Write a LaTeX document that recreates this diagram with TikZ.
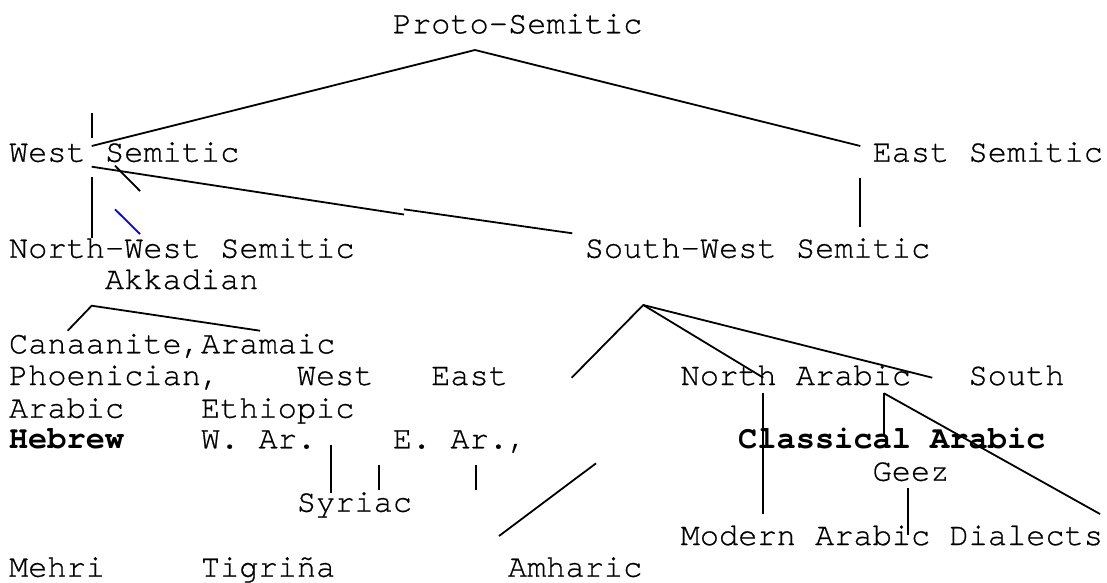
\documentclass[tikz,border=0pt]{standalone}
\usepackage{fontspec}
\newfontfamily\monofont{texgyrecursor}[Extension=.otf,UprightFont=*-regular,BoldFont=*-bold,UprightFeatures={FakeBold=0.6}]
\definecolor{pureblue}{RGB}{0,0,255}
\begin{document}
\begin{tikzpicture}[x=1pt,y=-1pt,
  lbl/.style={anchor=base west,inner sep=0pt,outer sep=0pt,font=\monofont\fontsize{32}{32}\selectfont},
  blbl/.style={lbl,font=\monofont\bfseries\fontsize{32}{32}\selectfont},
  edge/.style={line width=1.8pt,line cap=butt,line join=miter},
  blueedge/.style={edge,draw=pureblue}]
\useasboundingbox[fill=white] (0,0) rectangle (1107,582);
% ---- labels ----
\node[lbl] (ps)    at (392.8,33.3)  {Proto-Semitic};
\node[lbl] (ws)    at (9,161.7)     {West Semitic};
\node[lbl] (es)    at (872.55,161.7){East Semitic};
\node[lbl] (nws)   at (9,257.7)     {North-West Semitic};
\node[lbl] (sws)   at (584.7,257.7) {South-West Semitic};
\node[lbl] (akk)   at (104.95,289)  {Akkadian};
\node[lbl] (can)   at (9,353.3)     {Canaanite,Aramaic};
\node[lbl] (phoe)  at (9,385)       {Phoenician,};
\node[lbl] (westE) at (296.85,385)  {West};
\node[lbl] (eastE) at (431.18,385)  {East};
\node[lbl] (nar)   at (680.65,385)  {North Arabic};
\node[lbl] (south) at (968.5,385)   {South};
\node[lbl] (arab)  at (9,417.7)     {Arabic};
\node[lbl] (eth)   at (200.9,417.7) {Ethiopic};
\node[blbl] (heb)  at (9,448.3)     {Hebrew};
\node[lbl] (war)   at (200.9,448.3) {W. Ar.};
\node[lbl] (ear)   at (392.8,448.3) {E. Ar.,};
\node[blbl] (cla)  at (738.22,448.3){Classical Arabic};
\node[lbl] (geez)  at (872.55,480.7){Geez};
\node[lbl] (syr)   at (296.85,511.7){Syriac};
\node[lbl] (mad)   at (680.65,545)  {Modern Arabic Dialects};
\node[lbl] (mehri) at (9,576.7)     {Mehri};
\node[lbl] (tig)   at (200.9,576.7) {Tigriña};
\node[lbl] (amh)   at (507.94,576.7){Amharic};
% ---- connector points ----
\coordinate (apexP) at (475,50);
\coordinate (wsTop) at (91.7,146);
\coordinate (esTop) at (860.3,146);
\coordinate (tickA) at (91.7,113.3);
\coordinate (tickB) at (91.7,137.7);
\coordinate (wsR)   at (91.7,166.7);
\coordinate (midA)  at (404,214.5);
\coordinate (midB)  at (404,209.3);
\coordinate (swsL)  at (572.3,233.3);
\coordinate (kA)    at (115,165.7);
\coordinate (kB)    at (140,191);
\coordinate (bA)    at (115,209.3);
\coordinate (bB)    at (140,234);
\coordinate (vA)    at (91.7,177.3);
\coordinate (vB)    at (91.7,238.3);
\coordinate (eA)    at (859.7,177.7);
\coordinate (eB)    at (859.7,226.7);
\coordinate (cL)    at (67.7,330.7);
\coordinate (cApex) at (91.7,305.7);
\coordinate (cR)    at (260,330.7);
\coordinate (s1A)   at (331,445);
\coordinate (s1B)   at (331,493.3);
\coordinate (s2A)   at (379.3,465);
\coordinate (s2B)   at (379.3,490);
\coordinate (s3A)   at (475.7,465);
\coordinate (s3B)   at (475.7,490);
\coordinate (amA)   at (596,463.3);
\coordinate (amB)   at (499,536);
\coordinate (apexS) at (643.3,305);
\coordinate (sL)    at (571.7,377.7);
\coordinate (sM)    at (763.3,377.7);
\coordinate (sR)    at (932.3,377.7);
\coordinate (naA)   at (763.3,393.3);
\coordinate (naB)   at (763.3,514);
\coordinate (caA)   at (884,393.3);
\coordinate (caB)   at (884,435);
\coordinate (diB)   at (1100,514);
\coordinate (gA)    at (907.7,488.3);
\coordinate (gB)    at (907.7,535);
% ---- connectors ----
\draw[edge] (wsTop) -- (apexP) -- (esTop);
\draw[edge] (tickA) -- (tickB);
\draw[edge] (wsR) -- (midA);
\draw[edge] (midB) -- (swsL);
\draw[edge] (kA) -- (kB);
\draw[blueedge] (bA) -- (bB);
\draw[edge] (vA) -- (vB);
\draw[edge] (eA) -- (eB);
\draw[edge] (cL) -- (cApex) -- (cR);
\draw[edge] (s1A) -- (s1B);
\draw[edge] (s2A) -- (s2B);
\draw[edge] (s3A) -- (s3B);
\draw[edge] (amA) -- (amB);
\draw[edge] (sL) -- (apexS) -- (sM);
\draw[edge] (apexS) -- (sR);
\draw[edge] (naA) -- (naB);
\draw[edge] (caA) -- (caB);
\draw[edge] (caA) -- (diB);
\draw[edge] (gA) -- (gB);
\end{tikzpicture}
\end{document}
